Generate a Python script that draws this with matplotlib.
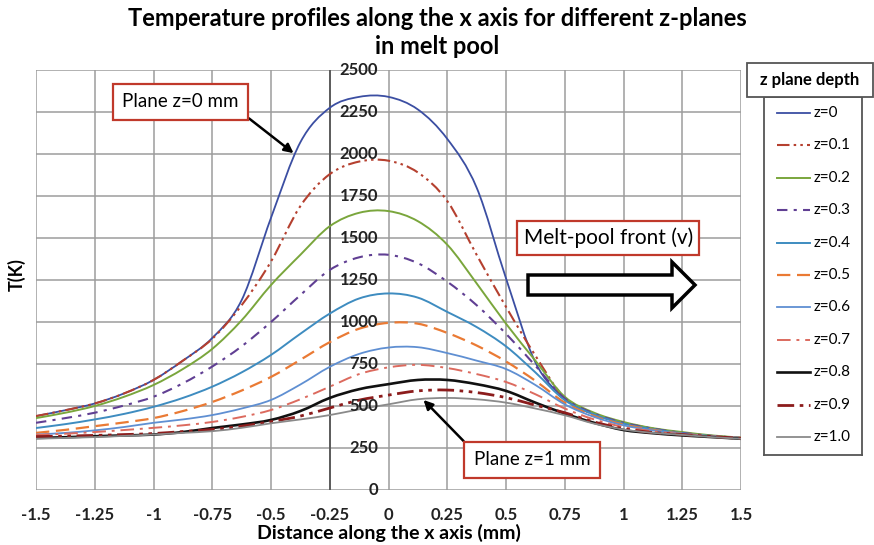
import matplotlib
matplotlib.use("Agg")
import matplotlib.pyplot as plt
import matplotlib.patches as mpatches
from matplotlib.path import Path

plt.rcParams['font.family'] = ['Lato', 'DejaVu Sans']

# x positions along the track (mm)
x_mm = [-1.5, -1.375, -1.25, -1.125, -1.0, -0.875, -0.75, -0.625, -0.5, -0.375, -0.25, -0.125,
        0.0, 0.125, 0.25, 0.375, 0.5, 0.625, 0.75, 0.875, 1.0, 1.125, 1.25, 1.375, 1.5]

# temperature (K) for each z plane
T_z00 = [440, 475, 515, 575, 655, 770, 905, 1130, 1620, 2070, 2275, 2340,
         2340, 2265, 2090, 1800, 1260, 760, 545, 450, 400, 365, 340, 322, 310]
T_z01 = [440, 475, 515, 575, 655, 770, 900, 1100, 1360, 1690, 1880, 1955,
         1960, 1890, 1720, 1400, 1090, 800, 545, 450, 400, 365, 340, 322, 310]
T_z02 = [428, 460, 500, 555, 625, 720, 840, 1010, 1220, 1400, 1570, 1650,
         1660, 1600, 1460, 1230, 990, 770, 555, 460, 405, 368, 345, 325, 312]
T_z03 = [400, 428, 460, 503, 555, 635, 735, 855, 1000, 1160, 1310, 1385,
         1400, 1350, 1240, 1100, 930, 740, 545, 455, 400, 365, 340, 322, 310]
T_z04 = [369, 392, 420, 453, 495, 548, 615, 700, 804, 930, 1050, 1140,
         1170, 1145, 1060, 970, 855, 700, 535, 450, 395, 362, 338, 320, 310]
T_z05 = [340, 358, 380, 402, 428, 470, 524, 592, 673, 775, 880, 960,
         995, 990, 935, 860, 765, 650, 520, 440, 390, 358, 335, 320, 310]
T_z06 = [330, 340, 355, 375, 400, 420, 446, 485, 536, 628, 733, 810,
         848, 850, 815, 770, 720, 625, 510, 435, 385, 355, 335, 320, 310]
T_z07 = [328, 335, 345, 357, 370, 385, 405, 435, 476, 540, 615, 690,
         730, 745, 726, 690, 643, 570, 485, 420, 375, 350, 332, 318, 308]
T_z08 = [310, 314, 320, 325, 330, 345, 369, 390, 417, 470, 548, 600,
         630, 655, 655, 630, 590, 520, 455, 400, 357, 338, 325, 315, 305]
T_z09 = [318, 321, 325, 330, 336, 348, 360, 380, 407, 440, 488, 535,
         565, 590, 595, 580, 550, 505, 460, 405, 365, 342, 330, 318, 307]
T_z10 = [305, 310, 315, 322, 330, 340, 350, 370, 397, 420, 446, 480,
         510, 540, 548, 540, 520, 485, 445, 395, 360, 340, 328, 315, 305]

labels = ['z=0', 'z=0.1', 'z=0.2', 'z=0.3', 'z=0.4', 'z=0.5',
          'z=0.6', 'z=0.7', 'z=0.8', 'z=0.9', 'z=1.0']
series = [T_z00, T_z01, T_z02, T_z03, T_z04, T_z05, T_z06, T_z07, T_z08, T_z09, T_z10]

x_ticks = [-1.5, -1.25, -1.0, -0.75, -0.5, -0.25, 0, 0.25, 0.5, 0.75, 1.0, 1.25, 1.5]
x_tick_labels = ['-1.5', '-1.25', '-1', '-0.75', '-0.5', '-0.25', '0',
                 '0.25', '0.5', '0.75', '1', '1.25', '1.5']
y_ticks = [0, 250, 500, 750, 1000, 1250, 1500, 1750, 2000, 2250, 2500]

styles = [
    dict(color='#3b4ea2', lw=1.3, ls='-'),
    dict(color='#b5402f', lw=1.5, ls=(0, (6, 2, 1.2, 2, 1.2, 2))),
    dict(color='#7aa63c', lw=1.4, ls='-'),
    dict(color='#603f93', lw=1.5, ls=(0, (5, 3, 1.5, 3))),
    dict(color='#3e8cc0', lw=1.4, ls='-'),
    dict(color='#ea7a34', lw=1.6, ls=(0, (6, 3))),
    dict(color='#5f8fd2', lw=1.3, ls='-'),
    dict(color='#dc6a5e', lw=1.4, ls=(0, (7, 3, 1.5, 3))),
    dict(color='#111111', lw=1.9, ls='-'),
    dict(color='#8c1c1c', lw=2.0, ls=(0, (6, 2, 1.3, 2, 1.3, 2))),
    dict(color='#8a8a8a', lw=1.3, ls='-'),
]


def smooth_path(xs, ys):
    # smoothed line through every point (cubic Bezier segments, Catmull-Rom tangents)
    pts = list(zip(xs, ys))
    n = len(pts)
    verts = [pts[0]]
    codes = [Path.MOVETO]
    for i in range(n - 1):
        p0 = pts[max(i - 1, 0)]
        p1 = pts[i]
        p2 = pts[i + 1]
        p3 = pts[min(i + 2, n - 1)]
        c1 = (p1[0] + (p2[0] - p0[0]) / 6, p1[1] + (p2[1] - p0[1]) / 6)
        c2 = (p2[0] - (p3[0] - p1[0]) / 6, p2[1] - (p3[1] - p1[1]) / 6)
        verts += [c1, c2, p2]
        codes += [Path.CURVE4] * 3
    return Path(verts, codes)


W, H = 874, 545
fig = plt.figure(figsize=(W / 100, H / 100), dpi=100)
ax = fig.add_axes([36 / W, 1 - 490 / H, 705 / W, 420 / H])

for T, st in zip(series, styles):
    ax.add_patch(mpatches.PathPatch(smooth_path(x_mm, T), fill=False, edgecolor=st['color'],
                                    lw=st['lw'], ls=st['ls'], zorder=3))

ax.set_xlim(-1.5, 1.5)
ax.set_ylim(0, 2500)
ax.set_xticks(x_ticks)
ax.set_xticklabels(x_tick_labels, fontsize=12, fontweight='bold', color='#222222')
ax.set_yticks(y_ticks)
ax.set_yticklabels([])
ax.tick_params(length=0, pad=12)
ax.grid(True, color='#9c9c9c', lw=1.1)
for s in ax.spines.values():
    s.set_visible(False)

# vertical value axis sits at x = -0.25, labels to its right
ax.axvline(-0.25, color='#555555', lw=1.3, zorder=2)
for yv in y_ticks:
    ax.text(-0.045, yv, str(yv), ha='right', va='center', fontsize=12,
            fontweight='bold', color='#222222', zorder=4)

ax.set_xlabel('Distance along the x axis (mm)', fontsize=14, fontweight='bold', labelpad=1)
fig.text(17 / W, 1 - 275 / H, 'T(K)', rotation=90, ha='center', va='center',
         fontsize=13, fontweight='bold')
fig.text(437 / W, 1 - 18 / H, 'Temperature profiles along the x axis for different z-planes',
         ha='center', va='center', fontsize=17, fontweight='bold')
fig.text(437 / W, 1 - 46 / H, 'in melt pool', ha='center', va='center',
         fontsize=17, fontweight='bold')

# callout boxes
box = dict(boxstyle='square,pad=0.5', fc='white', ec='#c0392b', lw=1.6)
ax.annotate('Plane z=0 mm', xy=(-0.404, 2005), xytext=(-0.885, 2310),
            ha='center', va='center', fontsize=13.5, bbox=box, zorder=6,
            arrowprops=dict(arrowstyle='-|>', color='black', lw=1.8,
                            shrinkA=0, shrinkB=0, relpos=(1.0, 0.0)))
ax.annotate('Plane z=1 mm', xy=(0.149, 536), xytext=(0.61, 180),
            ha='center', va='center', fontsize=13.5, bbox=box, zorder=6,
            arrowprops=dict(arrowstyle='-|>', color='black', lw=1.8,
                            shrinkA=0, shrinkB=0, relpos=(0.0, 1.0)))
ax.text(0.935, 1500, 'Melt-pool front (v)', ha='center', va='center', fontsize=15,
        bbox=dict(boxstyle='square,pad=0.3', fc='white', ec='#c0392b', lw=1.6), zorder=6)

# hollow block arrow
pts = [(528, 275), (672, 275), (672, 262), (695, 285), (672, 308), (672, 295), (528, 295)]
arrow = mpatches.Polygon([(px / W, 1 - py / H) for px, py in pts], closed=True,
                         transform=fig.transFigure, fc='white', ec='black', lw=2.5, zorder=6)
fig.patches.append(arrow)

# legend: title box and entries box
fig.patches.append(mpatches.Rectangle((747 / W, 1 - 97 / H), 126 / W, 34 / H,
                                      transform=fig.transFigure, fc='white', ec='#555555', lw=1.3))
fig.text(810 / W, 1 - 80 / H, 'z plane depth', ha='center', va='center',
         fontsize=12, fontweight='bold')
lg = fig.add_axes([764 / W, 1 - 455 / H, 98 / W, 358 / H])
lg.set_xlim(764, 862)
lg.set_ylim(455, 97)
lg.set_xticks([])
lg.set_yticks([])
for s in lg.spines.values():
    s.set_color('#555555')
    s.set_linewidth(1.3)
for i, (lab, st) in enumerate(zip(labels, styles)):
    yy = 113 + 32.4 * i
    lg.plot([777, 810], [yy, yy], **st)
    lg.text(814, yy, lab, ha='left', va='center', fontsize=11)

fig.savefig('out.png', dpi=100)
